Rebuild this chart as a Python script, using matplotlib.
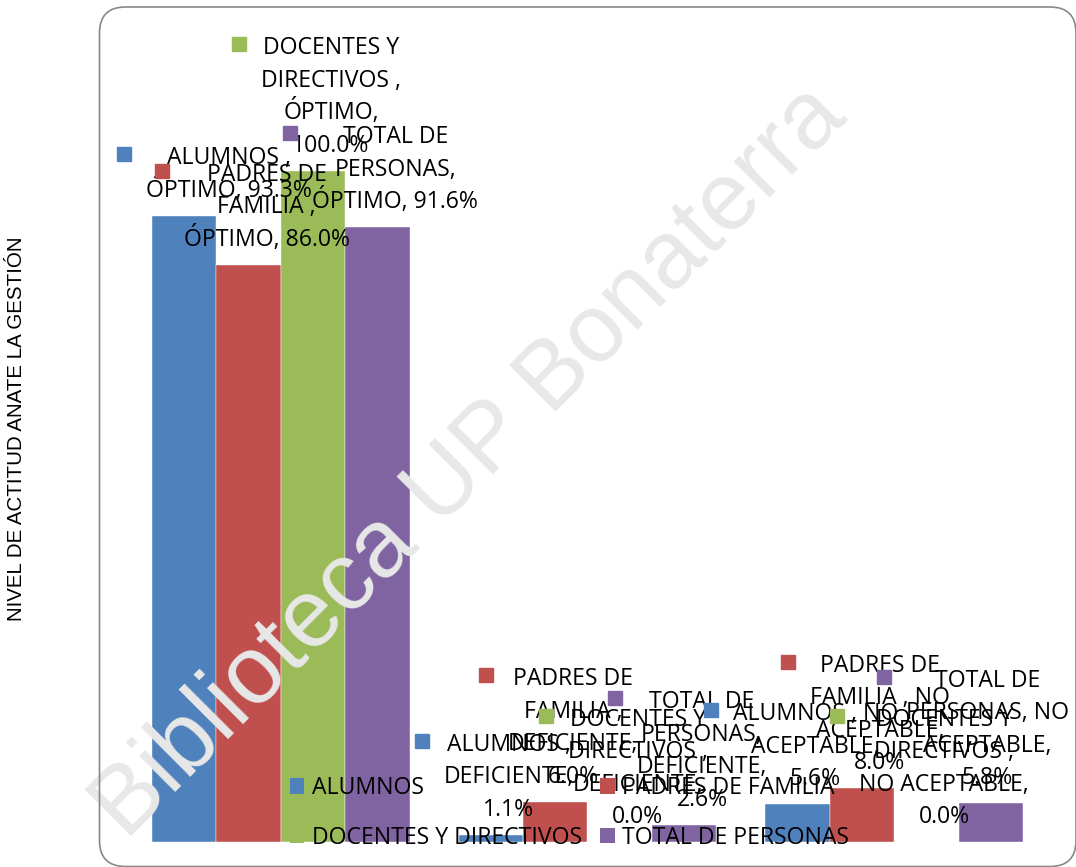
import textwrap
import matplotlib
matplotlib.use("Agg")
import matplotlib.pyplot as plt
import numpy as np
from matplotlib.patches import Patch, FancyBboxPatch
from matplotlib.transforms import offset_copy, IdentityTransform

# ---- data ----
categories = ["ÓPTIMO", "DEFICIENTE", "NO ACEPTABLE"]
series_names = ["ALUMNOS ", "PADRES DE FAMILIA ", "DOCENTES Y DIRECTIVOS ", "TOTAL DE PERSONAS"]
alumnos = [93.3, 1.1, 5.6]
padres = [86.0, 6.0, 8.0]
docentes = [100.0, 0.0, 0.0]
total = [91.6, 2.6, 5.8]
series_values = [alumnos, padres, docentes, total]
colors = ["#4F81BD", "#C0504D", "#9BBB59", "#8064A2"]
ylabel = "NIVEL DE ACTITUD ANATE LA GESTIÓN"
watermark = "Biblioteca UP Bonaterra"

W, H = 1076, 867
fig = plt.figure(figsize=(W / 100, H / 100), dpi=100)
ax = fig.add_axes([127.5 / W, 25 / H, 920 / W, 671 / H])
ax.set_xlim(-0.5, 2.5)
ax.set_ylim(0, 100)
ax.axis("off")

FONT = "Open Sans"
FS = 16.6
bw = 0.21
x = np.arange(len(categories))

for i, (vals, c) in enumerate(zip(series_values, colors)):
    ax.bar(x + (i - 1.5) * bw, vals, width=bw, color=c, zorder=2,
           edgecolor="white", linewidth=0.3)

# data labels (Excel style: legend key + wrapped text)
pitch = 32.5
gap = 27
nudge = {(0, 0): 26.5, (3, 2): -21.5}
texts = []
for i, (name, vals, c) in enumerate(zip(series_names, series_values, colors)):
    for j, (cat, v) in enumerate(zip(categories, vals)):
        label = f"{name}, {cat}, {v:.1f}%"
        lines = textwrap.wrap(label, width=13, break_long_words=False)
        n = len(lines)
        xc = x[j] + (i - 1.5) * bw
        dx = 18 + nudge.get((i, j), 0)
        group = []
        for k, ln in enumerate(lines):
            dy = gap + (n - 1 - k) * pitch - 8
            t = ax.annotate(ln, xy=(xc, v), xytext=(dx, dy), textcoords="offset pixels",
                            ha="center", va="baseline", fontsize=FS, family=FONT,
                            color="black", zorder=5, annotation_clip=False)
            group.append(t)
        texts.append((xc, v, dx, n, group, c))

fig.canvas.draw()
renderer = fig.canvas.get_renderer()
for xc, v, dx, n, group, c in texts:
    wmax = max(t.get_window_extent(renderer).width for t in group)
    sq_dx = dx - wmax / 2 - 22
    sq_dy = gap + (n - 1) * pitch + 2
    tr = offset_copy(ax.transData, fig=fig, x=sq_dx, y=sq_dy, units="dots")
    ax.plot([xc], [v], marker="s", markersize=10.6, color=c, linestyle="none",
            transform=tr, zorder=5, clip_on=False)

# legend
handles = [Patch(facecolor=c, edgecolor="none") for c in colors]
labels = [s.strip() for s in series_names]
order = [0, 2, 1, 3]
leg = ax.legend([handles[k] for k in order], [labels[k] for k in order], ncol=2,
                loc="upper left", bbox_to_anchor=(289.5 / W, (H - 776) / H),
                bbox_transform=fig.transFigure, frameon=False, borderpad=0,
                borderaxespad=0,
                handlelength=0.65, handleheight=0.65, handletextpad=0.33,
                labelspacing=1.12, columnspacing=0.76,
                prop={"family": FONT, "size": FS})
leg.set_zorder(6)

# watermark
ax.text(470 / W, (H - 463) / H, watermark, transform=fig.transFigure, rotation=45,
        rotation_mode="anchor", ha="center", va="center", fontsize=69,
        family="Liberation Sans", color="#e8e8e8", zorder=3, clip_on=False)

# y label
fig.text(17 / W, (H - 429) / H, ylabel, rotation=90, ha="center", va="center",
         fontsize=14.8, family="Liberation Sans", color="black")

# rounded chart frame
frame = FancyBboxPatch((99.5, 0.5), 976.5, 859.5, boxstyle="round,pad=0,rounding_size=26",
                       transform=IdentityTransform(), facecolor="none",
                       edgecolor="#888888", linewidth=1.2, zorder=10)
fig.patches.append(frame)

fig.savefig("out.png", dpi=100)
